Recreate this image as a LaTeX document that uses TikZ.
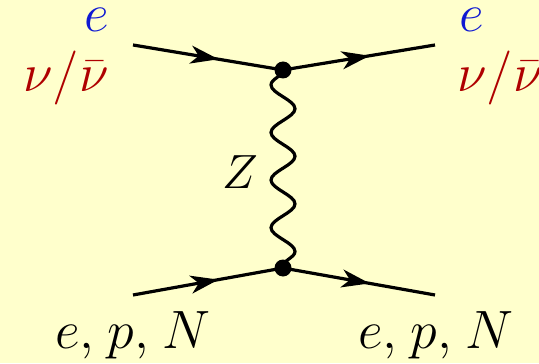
\documentclass[tikz,border=0pt]{standalone}
\usepackage{amsmath,amssymb}
\usepackage{tikz}
\usetikzlibrary{arrows.meta, decorations.markings, decorations.pathmorphing}
\definecolor{bgyellow}{RGB}{255,255,204}
\definecolor{lblue}{RGB}{15,25,210}
\definecolor{lred}{RGB}{175,0,0}

\begin{document}
\begin{tikzpicture}[x=0.5pt, y=-0.5pt,
  fermion/.style={line width=1.6pt, postaction={decorate},
                  decoration={markings, mark=at position 0.57 with
                  {\arrow{Stealth[length=14pt, width=9pt, inset=4pt]}}}},
  boson/.style={line width=1.6pt, decorate,
                decoration={snake, mirror, segment length=23.8pt, amplitude=6pt}},
  vtx/.style={circle, fill=black, inner sep=0pt, minimum size=8.5pt},
  lbl/.style={inner sep=0pt, font=\Huge, scale=1.085}
]
\path[use as bounding box, fill=bgyellow] (0,0) rectangle (539,363);
\clip (0,0) rectangle (539,363);

% vertices and external legs
\coordinate (v1) at (283,70);
\coordinate (v2) at (283,268);
\coordinate (in1) at (133,45);
\coordinate (out1) at (435,45);
\coordinate (in2) at (133,295);
\coordinate (out2) at (435,295);

\draw[fermion] (in1) -- (v1);
\draw[fermion] (v1) -- (out1);
\draw[fermion] (in2) -- (v2);
\draw[fermion] (v2) -- (out2);
\draw[boson] (v1) -- (v2);

\node[vtx] (d1) at (v1) {};
\node[vtx] (d2) at (v2) {};

% labels
\node[lbl, anchor=base east, text=lblue] (eL) at (109,32) {$e$};
\node[lbl, anchor=base east, text=lred] (nuL) at (109,92) {$\nu/\bar{\nu}$};
\node[lbl, anchor=base west, text=lblue] (eR) at (459,32) {$e$};
\node[lbl, anchor=base west, text=lred] (nuR) at (457,92) {$\nu/\bar{\nu}$};
\node[lbl, anchor=base west, scale=0.89] (Z) at (222,188) {$Z$};
\node[lbl, anchor=base west] (tL) at (55,348) {$e,\mkern1.5mu p,\mkern1.5mu N$};
\node[lbl, anchor=base west] (tR) at (358,348) {$e,\mkern1.5mu p,\mkern1.5mu N$};
\end{tikzpicture}
\end{document}
